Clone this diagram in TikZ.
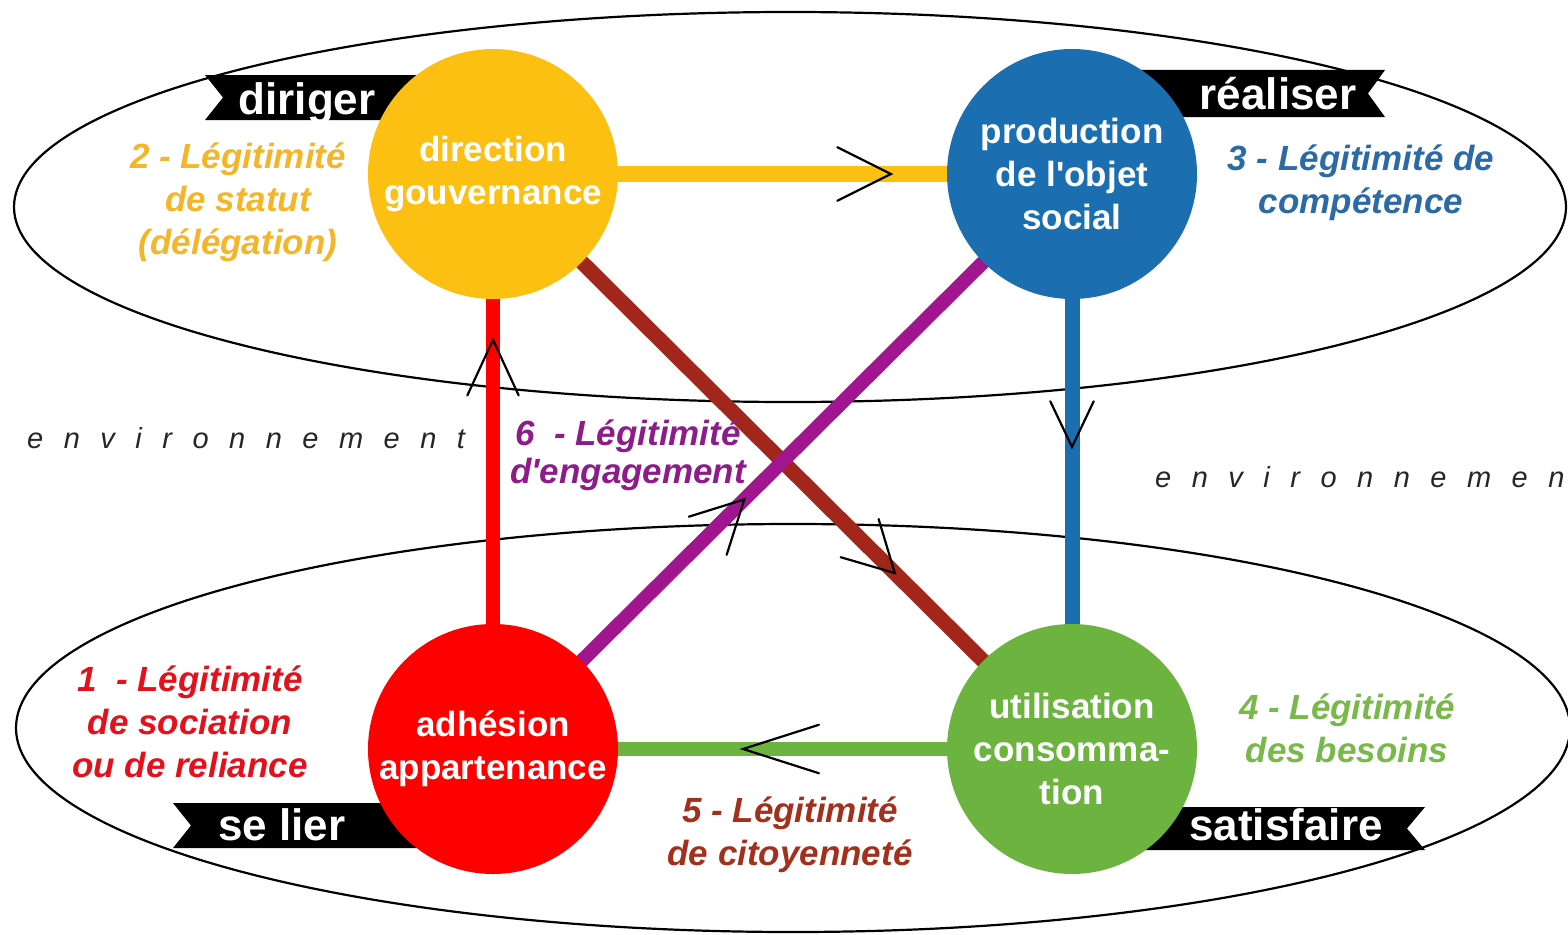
\documentclass[tikz,border=0pt]{standalone}
\usepackage{fontspec}
\setmainfont{Liberation Sans}[Ligatures=TeXOff]
\usetikzlibrary{decorations.markings}

\definecolor{cYellow}{RGB}{251,192,18}
\definecolor{cBlue}{RGB}{27,111,177}
\definecolor{cRed}{RGB}{255,0,0}
\definecolor{cGreen}{RGB}{109,179,63}
\definecolor{cBrown}{RGB}{163,38,26}
\definecolor{cPurple}{RGB}{161,22,143}
\definecolor{tYellow}{RGB}{245,181,40}
\definecolor{tBlue}{RGB}{44,106,166}
\definecolor{tRed}{RGB}{227,17,27}
\definecolor{tGreen}{RGB}{121,184,74}
\definecolor{tBrown}{RGB}{162,48,28}
\definecolor{tPurple}{RGB}{141,28,138}

\newcommand{\envword}[1]{{\spaceskip=20.5pt\relax #1}}

\pgfdeclarelayer{back}
\pgfsetlayers{back,main}

\tikzset{
  ring/.style={draw=black, line width=2.2},
  disc/.style={circle, minimum size=250, inner sep=0, text=white, align=center,
    font=\fontsize{35}{43}\selectfont\bfseries},
  lab/.style={align=center, inner sep=0, font=\fontsize{35}{43}\selectfont\bfseries\itshape},
  env/.style={anchor=base west, inner sep=0, text=black!85,
    font=\fontsize{29}{29}\selectfont\itshape},
  bantext/.style={anchor=base, inner sep=0, text=white,
    font=\fontsize{44}{44}\selectfont\bfseries},
  link/.style={line cap=butt, shorten <=-4, shorten >=-4},
  chev/.style n args={3}{postaction={decorate}, decoration={markings,
    mark=at position #1 with {\draw[black, line width=2.2, line cap=round, line join=miter]
      (-#2,#3) -- (0,0) -- (-#2,-#3);}}},
}

\begin{document}
\begin{tikzpicture}[x=1pt,y=-1pt]
\useasboundingbox (0,0) rectangle (1568,934);

% the four poles
\node[disc, fill=cYellow] (Y) at (493,174) {direction\\gouvernance};
\node[disc, fill=cBlue]   (B) at (1072,174) {production\\de l'objet\\social};
\node[disc, fill=cRed]    (R) at (493,749) {adhésion\\appartenance};
\node[disc, fill=cGreen]  (G) at (1072,749) {utilisation\\consomma-\\tion};

\begin{pgfonlayer}{back}
  % the two spheres
  \draw[ring] (790,207) ellipse [x radius=776, y radius=195];
  \draw[ring] (793,728) ellipse [x radius=777, y radius=204];

  % relations between the poles
  \draw[link, draw=cYellow, line width=16, chev={0.83}{50}{25}] (Y) -- (B);
  \draw[link, draw=cBlue, line width=15, chev={0.455}{42}{20}] (B) -- (G);
  \draw[link, draw=cRed, line width=14, chev={0.875}{52}{24}] (R) -- (Y);
  \draw[link, draw=cGreen, line width=14, chev={0.62}{72}{23}] (G) -- (R);
  \draw[link, draw=cBrown, line width=15, chev={0.78}{46}{25}] (Y) -- (G);
  \draw[link, draw=cPurple, line width=14, chev={0.405}{48}{25}] (R) -- (B);

  % ribbons
  \fill[black] (205,75) -- (440,75) -- (440,120) -- (205,120) -- (223,97.5) -- cycle;
  \fill[black] (1120,70) -- (1385,70) -- (1368,93.5) -- (1385,117) -- (1120,117) -- cycle;
  \fill[black] (173,803) -- (440,803) -- (440,848) -- (173,848) -- (191,825.5) -- cycle;
  \fill[black] (1130,807) -- (1425,807) -- (1407,828.5) -- (1425,850) -- (1130,850) -- cycle;
\end{pgfonlayer}

% ribbon captions
\node[bantext] (diriger) at (307,114) {diriger};
\node[bantext] (realiser) at (1278,109) {réaliser};
\node[bantext] (selier) at (282,840) {se lier};
\node[bantext] (satisfaire) at (1286,840) {satisfaire};

% legitimacy labels
\node[lab, text=tYellow] (l2) at (238,202) {2 - Légitimité\\de statut\\(délégation)};
\node[lab, text=tBlue]   (l3) at (1361,183) {3 - Légitimité de\\compétence};
\node[lab, text=tRed]    (l1) at (190,722) {1~~- Légitimité\\de sociation\\ou de reliance};
\node[lab, text=tGreen]  (l4) at (1347,728) {4 - Légitimité\\des besoins};
\node[lab, text=tBrown]  (l5) at (790,835) {5 - Légitimité\\de citoyenneté};
\node[lab, text=tPurple, font=\fontsize{35}{38}\selectfont\bfseries\itshape] (l6) at (628,455) {6~~- Légitimité\\d'engagement};

% surrounding environment
\node[env] (envL) at (27,448) {\envword{e n v i r o n n e m e n t}};
\node[env] (envR) at (1155,487) {\envword{e n v i r o n n e m e n}};
\end{tikzpicture}
\end{document}
